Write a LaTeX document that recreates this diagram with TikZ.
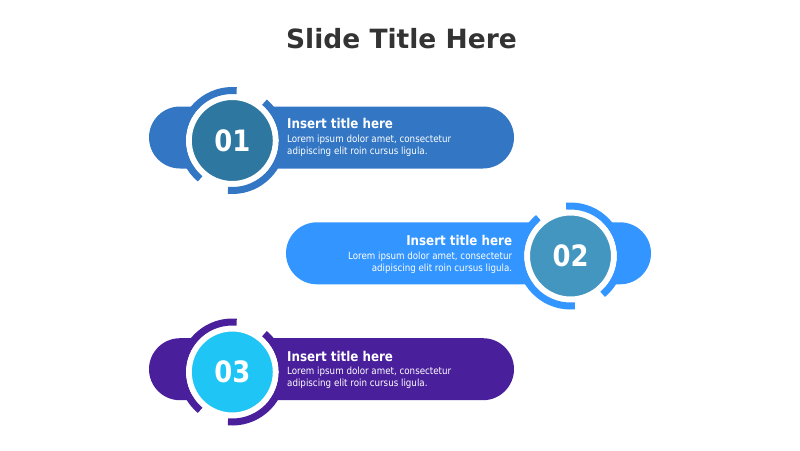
\documentclass[tikz,border=0pt]{standalone}
\usepackage{fontspec}
\setmainfont{DejaVu Sans}
\newfontfamily\narrowfont[FakeStretch=0.88]{DejaVu Sans}
\definecolor{barone}{RGB}{50,118,196}
\definecolor{bartwo}{RGB}{51,149,255}
\definecolor{barthree}{RGB}{74,31,156}
\definecolor{cirone}{RGB}{46,119,160}
\definecolor{cirtwo}{RGB}{67,150,191}
\definecolor{cirthree}{RGB}{31,198,245}
\definecolor{titlegray}{RGB}{51,51,51}

\begin{document}
\begin{tikzpicture}[x=1pt,y=1pt,yscale=-1,
  bar/.style={rectangle, rounded corners=31pt, minimum width=365pt, minimum height=62pt, inner sep=0pt},
  numdisk/.style={circle, draw=white, line width=6pt, minimum size=87pt, inner sep=0pt, text=white, font=\narrowfont\bfseries\fontsize{29.4}{30}\selectfont},
  ring/.style={line width=7pt},
  ttl/.style={text=white, inner sep=0pt, font=\narrowfont\bfseries\fontsize{13.5}{15}\selectfont},
  txt/.style={text=white, inner sep=0pt, font=\narrowfont\fontsize{9.9}{12}\selectfont}]
\useasboundingbox (0,0) rectangle (800,450);

\node[anchor=base, text=titlegray, font=\bfseries\fontsize{26.5}{30}\selectfont] (title) at (401.5,48.3) {Slide Title Here};

% first item
\node[bar, fill=barone] (bar1) at (331.5,137.5) {};
\node[numdisk, fill=cirone] (num1) at (232.3,140.5) {01};
\draw[ring, barone] ([shift={(-85:50)}]num1.center) arc[start angle=-85, end angle=-230, radius=50];
\draw[ring, barone] ([shift={(-265:50)}]num1.center) arc[start angle=-265, end angle=-410, radius=50];
\node[ttl, anchor=base west] (ttl1) at (287,128.3) {Insert title here};
\node[txt, anchor=base west, align=left] (txt1) at (287,154.3) {Lorem ipsum dolor amet, consectetur\\adipiscing elit roin cursus ligula.};

% second item
\node[bar, fill=bartwo] (bar2) at (468.5,253.3) {};
\node[numdisk, fill=cirtwo] (num2) at (570.5,256) {02};
\draw[ring, bartwo] ([shift={(-95:50)}]num2.center) arc[start angle=-95, end angle=50, radius=50];
\draw[ring, bartwo] ([shift={(-275:50)}]num2.center) arc[start angle=-275, end angle=-130, radius=50];
\node[ttl, anchor=base east] (ttl2) at (512.3,245) {Insert title here};
\node[txt, anchor=base east, align=right] (txt2) at (512.3,271.3) {Lorem ipsum dolor amet, consectetur\\adipiscing elit roin cursus ligula.};

% third item
\node[bar, fill=barthree] (bar3) at (331.5,369.2) {};
\node[numdisk, fill=cirthree] (num3) at (232.3,372) {03};
\draw[ring, barthree] ([shift={(-85:50)}]num3.center) arc[start angle=-85, end angle=-230, radius=50];
\draw[ring, barthree] ([shift={(-265:50)}]num3.center) arc[start angle=-265, end angle=-410, radius=50];
\node[ttl, anchor=base west] (ttl3) at (287,361) {Insert title here};
\node[txt, anchor=base west, align=left] (txt3) at (287,386.3) {Lorem ipsum dolor amet, consectetur\\adipiscing elit roin cursus ligula.};

\end{tikzpicture}
\end{document}
